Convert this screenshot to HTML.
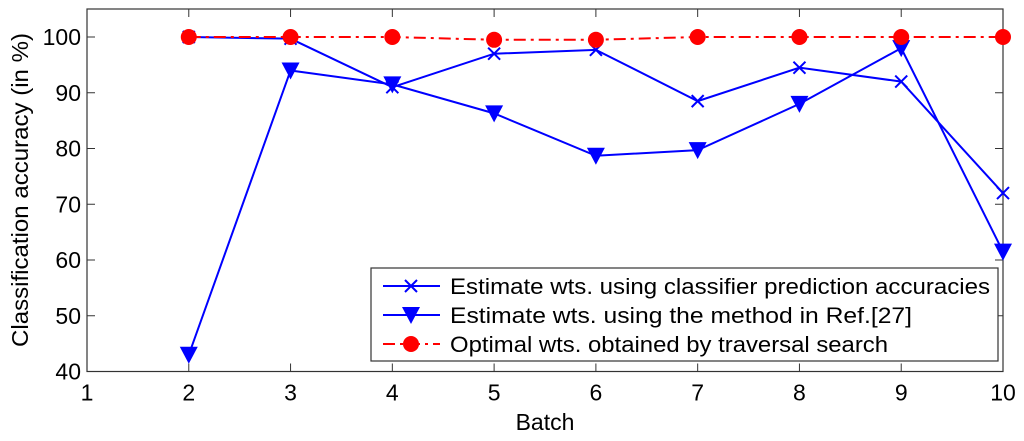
<!DOCTYPE html>
<html><head><meta charset="utf-8"><style>
body{margin:0;background:#fff;}
svg text{font-family:"Liberation Sans",Arial,sans-serif;fill:#000;}
</style></head><body>
<svg id="chart" width="1024" height="436" xmlns="http://www.w3.org/2000/svg">
<rect x="0" y="0" width="1024" height="436" fill="#fff"/>
<g id="grid"></g>
<g id="series"></g>
<g id="legend"></g>
</svg>
<script>
const batches=[2,3,4,5,6,7,8,9,10];
const accClassifier=[100,99.7,91,97,97.7,88.5,94.5,92,72];
const accRef27=[43,94,91.5,86.3,78.7,79.7,88,98,61.5];
const accOptimal=[100,100,100,99.5,99.5,100,100,100,100];
const xTicks=[1,2,3,4,5,6,7,8,9,10];
const yTicks=[40,50,60,70,80,90,100];

const L=87,R=1003,T=9,B=371.5;
const X=v=>L+(v-1)*(R-L)/9;
const Y=v=>B-(v-40)*(B-37)/60;
const NS='http://www.w3.org/2000/svg';
const svg=document.getElementById('chart');
function mk(tag,attrs,parent){const e=document.createElementNS(NS,tag);for(const k in attrs)e.setAttribute(k,attrs[k]);(parent||svg).appendChild(e);return e;}
const ax=document.getElementById('grid');
const frame=mk('rect',{x:L,y:T,width:R-L,height:B-T,fill:'none',stroke:'#333','stroke-width':1.2},ax);


xTicks.forEach(t=>{
 const x=X(t);
 mk('line',{x1:x,y1:B,x2:x,y2:B-8,stroke:'#333'},ax);
 mk('line',{x1:x,y1:T,x2:x,y2:T+8,stroke:'#333'},ax);
 const tx=mk('text',{x:x,y:B+29,'font-size':23,'text-anchor':'middle'},ax);
 tx.textContent=t;
 
 
});
yTicks.forEach(t=>{
 const y=Y(t);
 mk('line',{x1:L,y1:y,x2:L+8,y2:y,stroke:'#333'},ax);
 mk('line',{x1:R,y1:y,x2:R-8,y2:y,stroke:'#333'},ax);
 const tx=mk('text',{x:L-6,y:y+8,'font-size':23,'text-anchor':'end'},ax);
 tx.textContent=t;
 
 
});
const xt=mk('text',{x:(L+R)/2,y:430,'font-size':23,'text-anchor':'middle'},ax);
xt.textContent='Batch';


const yt=mk('text',{x:0,y:0,'font-size':23,'text-anchor':'middle',textLength:314,lengthAdjust:'spacingAndGlyphs',transform:'translate(28,190) rotate(-90)'},ax);
yt.textContent='Classification accuracy (in %)';



const sg=document.getElementById('series');
function xMark(x,y,p){const s=6;mk('path',{d:`M${x-s},${y-s}L${x+s},${y+s}M${x-s},${y+s}L${x+s},${y-s}`,stroke:'#00f','stroke-width':2,fill:'none'},p);}
function triMark(x,y,p){mk('path',{d:`M${x-9},${y-8}L${x+9},${y-8}L${x},${y+9}Z`,fill:'#00f'},p);}
function dotMark(x,y,p){mk('circle',{cx:x,cy:y,r:8,fill:'#f00'},p);}
function series(name,vals,color,dash,marker){
 const g=mk('g',{},sg);
 
 
 const pts=batches.map((b,i)=>X(b)+','+Y(vals[i])).join(' ');
 const pl=mk('polyline',{points:pts,fill:'none',stroke:color,'stroke-width':2,'stroke-dasharray':dash},g);
 
 
 batches.forEach((b,i)=>marker(X(b),Y(vals[i]),g));
}
series('series-ref27',accRef27,'#00f','none',triMark);
series('series-classifier',accClassifier,'#00f','none',xMark);
series('series-optimal',accOptimal,'#f00','12,5,3,5',dotMark);

const lg=document.getElementById('legend');


mk('rect',{x:371,y:268,width:627,height:93,fill:'#fff',stroke:'#333','stroke-width':1.2},lg);
const items=[['Estimate wts. using classifier prediction accuracies','#00f','none',xMark,540],
['Estimate wts. using the method in Ref.[27]','#00f','none',triMark,462],
['Optimal wts. obtained by traversal search','#f00','12,5,3,5',dotMark,438]];
items.forEach((it,i)=>{
 const y=286+i*29;
 const g=mk('g',{},lg);
 
 
 mk('line',{x1:383,y1:y,x2:440,y2:y,stroke:it[1],'stroke-width':2,'stroke-dasharray':it[2]},g);
 it[3](411,y,g);
 const t=mk('text',{x:450,y:y+8,'font-size':22,textLength:it[4],lengthAdjust:'spacingAndGlyphs'},g);
 t.textContent=it[0];
});
</script>
</body></html>
